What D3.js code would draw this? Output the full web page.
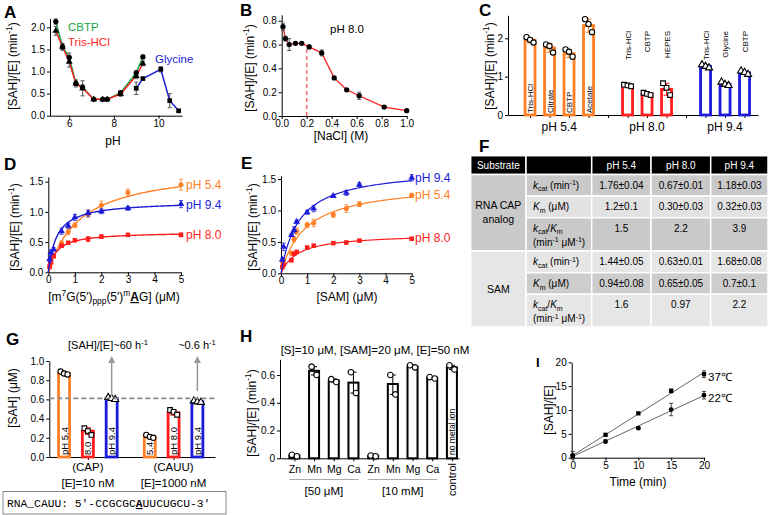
<!DOCTYPE html>
<html>
<head>
<meta charset="utf-8">
<script src="https://cdn.jsdelivr.net/npm/d3@7"></script>
<style>
  body { margin: 0; background: #fff; }
  text { font-family: "Liberation Sans", Arial, sans-serif; }
</style>
</head>
<body>
<div id="fig"></div>
<script>
// ---------- data ----------
// A: rate vs pH in three buffers
const phBuf = [5.4, 5.7, 6.0, 6.3, 6.6, 7.1, 7.5, 7.7, 8.3, 9.0, 9.3]
const rateCBTP = [2.13, 1.56, 1.32, 0.73, 0.64, 0.37, 0.37, 0.37, 0.52, 0.97, 1.33]
const errCBTP = [0.06, 0.06, 0.10, 0.05, 0.06, 0.02, 0.02, 0.02, 0.04, 0.05, 0.04]
const rateTris = [1.92, 1.56, 1.22, 0.73, 0.62, 0.37, 0.37, 0.37, 0.49, 0.90, 1.18]
const errTris = [0.10, 0.08, 0.12, 0.08, 0.17, 0.03, 0.03, 0.03, 0.05, 0.06, 0.05]
const phGly = [9.0, 9.3, 10.1, 10.5, 10.9]
const rateGly = [0.62, 0.84, 1.05, 0.34, 0.11]
const errGly = [0.14, 0.02, 0.06, 0.16, 0.02]

// B: NaCl titration at pH 8.0
const nacl = [0.01, 0.03, 0.06, 0.11, 0.16, 0.22, 0.32, 0.42, 0.52, 0.62, 0.82, 1.0]
const rateNaCl = [0.75, 0.65, 0.60, 0.61, 0.61, 0.58, 0.53, 0.32, 0.22, 0.17, 0.075, 0.045]
const errNaCl = [0.03, 0.02, 0.05, 0.01, 0.01, 0.015, 0.025, 0.01, 0.01, 0.03, 0.01, 0.005]

// C: buffers at three pH
const cGroups = ['pH 5.4', 'pH 8.0', 'pH 9.4']
const cBuffers = ['Tris-HCl', 'Citrate', 'CBTP', 'Acetate', 'Tris-HCl', 'CBTP', 'HEPES', 'Tris-HCl', 'Glycine', 'CBTP']
const cPH = ['pH 5.4', 'pH 5.4', 'pH 5.4', 'pH 5.4', 'pH 8.0', 'pH 8.0', 'pH 8.0', 'pH 9.4', 'pH 9.4', 'pH 9.4']
const cMeans = [1.95, 1.75, 1.60, 2.33, 0.76, 0.55, 0.67, 1.27, 0.80, 1.10]
const cReps = [[2.03, 1.96, 1.89], [1.84, 1.80, 1.63], [1.71, 1.65, 1.52], [2.50, 2.37, 2.16],
  [0.79, 0.77, 0.75], [0.58, 0.55, 0.52], [0.83, 0.71, 0.52],
  [1.31, 1.27, 1.23], [0.86, 0.80, 0.77], [1.15, 1.11, 1.06]]

// D: cap analog kinetics
const capConc = [0.05, 0.1, 0.2, 0.5, 0.75, 1, 1.5, 2, 3, 5]
const capRate54 = [0.08, 0.15, 0.26, 0.48, 0.67, 0.78, 0.97, 1.11, 1.32, 1.45]
const capRate80 = [0.10, 0.17, 0.27, 0.44, 0.49, 0.53, 0.55, 0.59, 0.62, 0.62]
const capRate94 = [0.22, 0.33, 0.38, 0.68, 0.77, 0.91, 0.98, 1.01, 1.06, 1.13]
const capErr54 = [0.02, 0.02, 0.03, 0.04, 0.05, 0.04, 0.06, 0.07, 0.06, 0.09]
const capErr80 = [0.02, 0.02, 0.02, 0.02, 0.02, 0.02, 0.04, 0.03, 0.02, 0.03]
const capErr94 = [0.05, 0.04, 0.03, 0.05, 0.04, 0.05, 0.05, 0.04, 0.03, 0.06]

// E: SAM kinetics
const samConc = [0.05, 0.1, 0.4, 0.5, 0.6, 1, 1.25, 2, 2.5, 3, 5]
const samRate54 = [0.19, 0.21, 0.32, 0.54, 0.67, 0.77, 0.80, 0.93, 1.03, 1.10, 1.24]
const samRate80 = [0.10, 0.14, 0.21, 0.31, 0.34, 0.41, 0.44, 0.48, 0.49, 0.52, 0.55]
const samRate94 = [0.22, 0.42, 0.61, 0.69, 0.82, 0.97, 1.03, 1.23, 1.28, 1.41, 1.52]
const samErr54 = [0.02, 0.02, 0.03, 0.04, 0.05, 0.04, 0.06, 0.04, 0.06, 0.04, 0.03]
const samErr80 = [0.02, 0.02, 0.03, 0.02, 0.02, 0.02, 0.02, 0.02, 0.02, 0.02, 0.02]
const samErr94 = [0.03, 0.06, 0.02, 0.05, 0.03, 0.03, 0.05, 0.02, 0.04, 0.03, 0.05]

// F: kinetic table
const fCols = ['pH 5.4', 'pH 8.0', 'pH 9.4']
const fSubstrates = [['RNA CAP', 'analog'], ['SAM']]
const fCap = [['1.76±0.04', '0.67±0.01', '1.18±0.03'], ['1.2±0.1', '0.30±0.03', '0.32±0.03'], ['1.5', '2.2', '3.9']]
const fSam = [['1.44±0.05', '0.63±0.01', '1.68±0.08'], ['0.94±0.08', '0.65±0.05', '0.7±0.1'], ['1.6', '0.97', '2.2']]

// G: SAH produced, CAP vs CAUU
const gSubstrates = ['(CAP)', '(CAUU)']
const gEnzyme = ['[E]=10 nM', '[E]=1000 nM']
const gInner = [['pH 5.4', '8.0', 'pH 9.4'], ['5.4', 'pH 8.0', 'pH 9.4']]
const gMeans = [[0.87, 0.27, 0.61], [0.21, 0.46, 0.575]]
const gReps = [[[0.89, 0.87, 0.86], [0.30, 0.27, 0.23], [0.62, 0.61, 0.60]],
  [[0.23, 0.21, 0.20], [0.49, 0.47, 0.44], [0.585, 0.575, 0.57]]]
const gRef = 0.61

// H: metal ions
const hIons = ['Zn', 'Mn', 'Mg', 'Ca', 'Zn', 'Mn', 'Mg', 'Ca', 'control']
const hConc = ['[50 μM]', '[10 mM]']
const hMeans = [0.02, 0.63, 0.56, 0.545, 0.015, 0.535, 0.66, 0.58, 0.655]
const hReps = [[0.025, 0.015], [0.66, 0.60], [0.57, 0.55], [0.62, 0.47], [0.02, 0.015],
  [0.60, 0.46], [0.67, 0.655], [0.585, 0.575], [0.67, 0.64]]

// I: time course
const time = [0, 5, 10, 15, 20]
const sah37 = [0.3, 4.8, 9.3, 14.0, 17.5]
const err37 = [0.3, 0.2, 0.2, 0.4, 0.7]
const sah22 = [0.5, 3.4, 6.2, 10.1, 13.1]
const err22 = [0.8, 0.3, 0.2, 1.3, 0.8]

const ORANGE = '#ff7f27', RED = '#ff1c1c', BLUE = '#1c1cd8', GREEN = '#17a348'
const phColors = [ORANGE, RED, BLUE]

// ---------- helpers ----------
const svg = d3.select('#fig').append('svg')
  .attr('width', 769).attr('height', 515)
  .style('background', '#fff')

function styleAxis(g) {
  g.attr('font-family', 'Liberation Sans, Arial, sans-serif').attr('font-size', 10)
  g.selectAll('path.domain').attr('stroke', '#000')
  g.selectAll('.tick line').attr('stroke', '#000')
}
function leftAxis(x, scale, ticks, fmt) {
  svg.append('g').attr('transform', `translate(${x},0)`)
    .call(d3.axisLeft(scale).tickValues(ticks).tickFormat(fmt).tickSize(3).tickPadding(2).tickSizeOuter(0))
    .call(styleAxis)
}
function bottomAxis(y, scale, ticks, fmt, pad = 1) {
  return svg.append('g').attr('transform', `translate(0,${y})`)
    .call(d3.axisBottom(scale).tickValues(ticks).tickFormat(fmt).tickSize(3).tickPadding(pad).tickSizeOuter(0))
    .call(styleAxis)
}
function rich(t, parts, fs) {
  let cur = 0
  parts.forEach(p => {
    const target = p.s === 'sub' ? fs * 0.25 : p.s === 'sup' ? -fs * 0.38 : 0
    const ts = t.append('tspan').attr('dy', target - cur).text(p.t)
    cur = target
    if (p.s) ts.attr('font-size', fs * 0.7)
    if (p.it) ts.attr('font-style', 'italic')
    if (p.b) ts.attr('font-weight', 'bold')
    if (p.u) ts.attr('text-decoration', 'underline')
  })
}
function txt(x, y, s, o = {}) {
  const fs = o.fs || 12
  const t = svg.append('text').attr('x', x).attr('y', y)
    .attr('font-size', fs).attr('fill', o.color || '#000')
    .attr('text-anchor', o.anchor || 'start')
  if (o.bold) t.attr('font-weight', 'bold')
  if (o.family) t.style('font-family', o.family)
  if (o.rot) t.attr('transform', `rotate(${o.rot},${x},${y})`)
  if (typeof s === 'string') t.text(s)
  else rich(t, s, fs)
  return t
}
const rateTitle = [{ t: '[SAH]/[E] (min' }, { t: '-1', s: 'sup' }, { t: ')' }]
const SYM = { circle: d3.symbolCircle, square: d3.symbolSquare, triangle: d3.symbolTriangle }
function marks(xs, ys, xS, yS, type, size, fill, stroke, sw = 1) {
  svg.append('g').selectAll('path').data(xs).join('path')
    .attr('d', d3.symbol().type(SYM[type]).size(size))
    .attr('transform', (d, i) => `translate(${xS(d)},${yS(ys[i])})`)
    .attr('fill', fill).attr('stroke', stroke).attr('stroke-width', sw)
}
function errs(xs, ys, es, xS, yS, color, cap = 2, sw = 1) {
  const g = svg.append('g').attr('stroke', color).attr('stroke-width', sw)
  xs.forEach((x, i) => {
    if (!es[i]) return
    const px = xS(x), a = yS(ys[i] - es[i]), b = yS(ys[i] + es[i])
    g.append('line').attr('x1', px).attr('x2', px).attr('y1', a).attr('y2', b)
    g.append('line').attr('x1', px - cap).attr('x2', px + cap).attr('y1', a).attr('y2', a)
    g.append('line').attr('x1', px - cap).attr('x2', px + cap).attr('y1', b).attr('y2', b)
  })
}
function line(xs, ys, xS, yS, color, w = 1.5) {
  svg.append('path').datum(xs)
    .attr('d', d3.line().x(d => xS(d)).y((d, i) => yS(ys[i])))
    .attr('fill', 'none').attr('stroke', color).attr('stroke-width', w)
}

// ---------- A ----------
const xA = d3.scaleLinear().domain([5.14, 11.05]).range([50, 182])
const yA = d3.scaleLinear().domain([0, 2.2]).range([115.7, 18.5])
bottomAxis(115.7, xA, [6, 8, 10], d3.format('d'))
leftAxis(50, yA, [0, 0.5, 1, 1.5, 2], d3.format('.1f'))
line(phBuf, rateCBTP, xA, yA, GREEN)
line(phBuf, rateTris, xA, yA, RED)
line(phGly, rateGly, xA, yA, BLUE)
errs(phBuf, rateCBTP, errCBTP, xA, yA, '#555')
errs(phBuf, rateTris, errTris, xA, yA, '#555')
errs(phGly, rateGly, errGly, xA, yA, '#555')
marks(phBuf, rateCBTP, xA, yA, 'circle', 22, '#000', 'none')
marks(phBuf, rateTris, xA, yA, 'triangle', 20, '#000', 'none')
marks(phGly, rateGly, xA, yA, 'square', 22, '#000', 'none')
txt(68, 31, 'CBTP', { fs: 11.5, color: GREEN })
txt(68, 46, 'Tris-HCl', { fs: 11.5, color: RED })
txt(155, 63, 'Glycine', { fs: 11.5, color: BLUE })
txt(113, 145, 'pH', { anchor: 'middle' })
txt(17, 66, rateTitle, { anchor: 'middle', rot: -90 })
txt(4, 18, 'A', { fs: 17, bold: 1 })

// ---------- B ----------
const xB = d3.scaleLinear().domain([0, 1]).range([281.7, 406.7])
const yB = d3.scaleLinear().domain([0, 0.85]).range([116, 14.8])
bottomAxis(116, xB, [0, 0.2, 0.4, 0.6, 0.8, 1.0], d3.format('.1f'))
leftAxis(281.7, yB, [0, 0.2, 0.4, 0.6, 0.8], d3.format('.1f'))
svg.append('line').attr('x1', xB(0.2)).attr('x2', xB(0.2)).attr('y1', yB(0)).attr('y2', yB(rateNaCl[5]))
  .attr('stroke', '#ff6a6a').attr('stroke-width', 1.5).attr('stroke-dasharray', '4,3')
line(nacl, rateNaCl, xB, yB, RED, 1.3)
errs(nacl, rateNaCl, errNaCl, xB, yB, '#555')
marks(nacl, rateNaCl, xB, yB, 'circle', 22, '#000', 'none')
txt(330, 33, 'pH 8.0', { fs: 11.5 })
txt(341, 140, '[NaCl] (M)', { anchor: 'middle' })
txt(254, 68, rateTitle, { anchor: 'middle', rot: -90 })
txt(240, 16, 'B', { fs: 17, bold: 1 })

// ---------- C ----------
const cSlot = cPH.map((p, i) => i + cGroups.indexOf(p))
const xC = d3.scaleLinear().domain([-1.13, 11.69]).range([508, 758])
const yC = d3.scaleLinear().domain([0, 2.6]).range([115, 15.3])
const cMarker = ['circle', 'square', 'triangle']
leftAxis(508, yC, [0, 1, 2], d3.format('d'))
const cSep = cGroups.slice(0, -1).map((g, k) => d3.max(cSlot.filter((s, i) => cPH[i] === g)) + 1)
bottomAxis(115, xC, cSlot.concat(cSep), () => '')
cBuffers.forEach((b, i) => {
  const gi = cGroups.indexOf(cPH[i]), cx = xC(cSlot[i]), col = phColors[gi]
  svg.append('rect').attr('x', cx - 5).attr('width', 10)
    .attr('y', yC(cMeans[i])).attr('height', yC(0) - yC(cMeans[i]))
    .attr('fill', '#fff').attr('stroke', col).attr('stroke-width', 2.8)
  const sd = d3.deviation(cReps[i])
  errs([cSlot[i]], [cMeans[i]], [sd], xC, yC, col, 3, 1)
  const offs = [-3.5, 0, 3.5]
  marks(offs, cReps[i], d => cx + d, yC, cMarker[gi], 22, '#fff', '#000', 1.1)
  if (gi === 0) txt(cx + 3, 113, b, { fs: 8, anchor: 'start', rot: -90 })
  else txt(cx + 3, 31, b, { fs: 8, anchor: 'end', rot: -90 })
})
cGroups.forEach((g, k) => {
  const s = cSlot.filter((v, i) => cPH[i] === g)
  txt(xC(d3.mean(s)), 131, g, { anchor: 'middle' })
})
txt(494, 66, rateTitle, { anchor: 'middle', rot: -90 })
txt(479, 16, 'C', { fs: 17, bold: 1 })

// ---------- D ----------
const capKcat = fCap[0].map(parseFloat), capKm = fCap[1].map(parseFloat)
const xD = d3.scaleLinear().domain([0, 5]).range([48.3, 181])
const yD = d3.scaleLinear().domain([0, 1.58]).range([272.3, 176.9])
bottomAxis(272.3, xD, [0, 1, 2, 3, 4, 5], d3.format('d'))
leftAxis(48.3, yD, [0, 0.5, 1, 1.5], d3.format('.1f'))
const capRates = [capRate54, capRate80, capRate94], capErrs = [capErr54, capErr80, capErr94]
const mkType = ['circle', 'square', 'triangle']
const fitX = d3.range(0, 5.001, 0.05)
capRates.forEach((r, k) => {
  line(fitX, fitX.map(s => capKcat[k] * s / (capKm[k] + s)), xD, yD, phColors[k], 1.4)
  errs(capConc, r, capErrs[k], xD, yD, phColors[k], 2, 0.8)
  marks(capConc, r, xD, yD, mkType[k], 20, phColors[k], 'none')
})
txt(186, 189, 'pH 5.4', { color: ORANGE })
txt(186, 209, 'pH 9.4', { color: BLUE })
txt(186, 239, 'pH 8.0', { color: RED })
txt(114, 301, [{ t: '[m' }, { t: '7', s: 'sup' }, { t: 'G(5′)' }, { t: 'ppp', s: 'sub' }, { t: '(5′)' },
  { t: 'm', s: 'sup' }, { t: 'A', b: 1, u: 1 }, { t: 'G] (μM)' }], { anchor: 'middle' })
txt(18.5, 227, rateTitle, { anchor: 'middle', rot: -90 })
txt(4, 170, 'D', { fs: 17, bold: 1 })

// ---------- E ----------
const samKcat = fSam[0].map(parseFloat), samKm = fSam[1].map(parseFloat)
const xE = d3.scaleLinear().domain([0, 5]).range([281, 411.7])
const yE = d3.scaleLinear().domain([0, 1.55]).range([273.3, 175.9])
bottomAxis(273.3, xE, [0, 1, 2, 3, 4, 5], d3.format('d'))
leftAxis(281, yE, [0, 0.5, 1, 1.5], d3.format('.1f'))
const samRates = [samRate54, samRate80, samRate94], samErrs = [samErr54, samErr80, samErr94]
samRates.forEach((r, k) => {
  line(fitX, fitX.map(s => samKcat[k] * s / (samKm[k] + s)), xE, yE, phColors[k], 1.2)
  errs(samConc, r, samErrs[k], xE, yE, phColors[k], 2, 0.8)
  marks(samConc, r, xE, yE, mkType[k], 20, phColors[k], 'none')
})
txt(415, 182, 'pH 9.4', { color: BLUE })
txt(415, 199, 'pH 5.4', { color: ORANGE })
txt(415, 242, 'pH 8.0', { color: RED })
txt(347, 301, '[SAM] (μM)', { anchor: 'middle' })
txt(257, 227, rateTitle, { anchor: 'middle', rot: -90 })
txt(241, 169, 'E', { fs: 17, bold: 1 })

// ---------- F (table) ----------
const colX = [470.7, 526, 591.7, 651, 710.7, 768]
const rowY = [155.7, 174.5, 196, 217.7, 251, 272.7, 294.3, 327]
const FS = 10
function cell(c0, c1, r0, r1, fill) {
  svg.append('rect').attr('x', colX[c0]).attr('y', rowY[r0])
    .attr('width', colX[c1] - colX[c0]).attr('height', rowY[r1] - rowY[r0])
    .attr('fill', fill).attr('stroke', '#fff').attr('stroke-width', 1.5)
}
const header = ['Substrate', ''].concat(fCols)
header.forEach((h, c) => {
  cell(c, c + 1, 0, 1, '#000')
  txt((colX[c] + colX[c + 1]) / 2, 169, h, { fs: FS, color: '#fff', anchor: 'middle' })
})
const paramLabels = [
  [[{ t: 'k', it: 1 }, { t: 'cat', s: 'sub' }, { t: ' (min' }, { t: '-1', s: 'sup' }, { t: ')' }]],
  [[{ t: 'K', it: 1 }, { t: 'm', s: 'sub' }, { t: ' (μM)' }]],
  [[{ t: 'k', it: 1 }, { t: 'cat', s: 'sub' }, { t: '/' }, { t: 'K', it: 1 }, { t: 'm', s: 'sub' }],
   [{ t: '(min' }, { t: '-1', s: 'sup' }, { t: ' μM' }, { t: '-1', s: 'sup' }, { t: ')' }]]
]
const subFill = ['#c9c9c9', '#e6e6e6']
const rowFill = [['#c9c9c9', '#e2e2e2', '#c9c9c9'], ['#e6e6e6', '#cdcdcd', '#e6e6e6']];
[fCap, fSam].forEach((vals, s) => {
  const r0 = 1 + s * 3
  cell(0, 1, r0, r0 + 3, subFill[s])
  const lines = fSubstrates[s]
  const mid = (rowY[r0] + rowY[r0 + 3]) / 2
  lines.forEach((l, j) => txt((colX[0] + colX[1]) / 2, mid + 3.5 + (j - (lines.length - 1) / 2) * 14, l, { fs: FS + 0.5, anchor: 'middle' }))
  vals.forEach((row, p) => {
    const r = r0 + p
    for (let c = 1; c < 5; c++) cell(c, c + 1, r, r + 1, rowFill[s][p])
    const two = paramLabels[p].length > 1
    const base = two ? rowY[r] + 14 : (rowY[r] + rowY[r + 1]) / 2 + 3.5
    paramLabels[p].forEach((pl, j) => txt(533, base + j * 14, pl, { fs: FS }))
    row.forEach((v, c) => txt((colX[c + 2] + colX[c + 3]) / 2, base, v, { fs: FS, anchor: 'middle' }))
  })
})
txt(479, 152, 'F', { fs: 17, bold: 1 })

// ---------- G ----------
const gSlot = (g, j) => g * 3.6 + j
const xG = d3.scaleLinear().domain([-0.62, 6.34]).range([49.3, 215])
const yG = d3.scaleLinear().domain([0, 1.0]).range([457, 361])
leftAxis(49.3, yG, [0, 0.2, 0.4, 0.6, 0.8, 1.0], d3.format('.1f'))
bottomAxis(457, xG, gSubstrates.map((s, g) => gSlot(g, 1)), () => '')
gMeans.forEach((row, g) => row.forEach((m, j) => {
  const cx = xG(gSlot(g, j)), col = phColors[j]
  svg.append('rect').attr('x', cx - 5.5).attr('width', 11)
    .attr('y', yG(m)).attr('height', yG(0) - yG(m))
    .attr('fill', '#fff').attr('stroke', col).attr('stroke-width', 2.8)
  errs([0], [m], [d3.deviation(gReps[g][j])], () => cx, yG, col, 3, 1)
  marks([-3.5, 0, 3.5], gReps[g][j], d => cx + d, yG, mkType[j], 22, '#fff', '#000', 1.1)
  txt(cx + 3.5, 455, gInner[g][j], { fs: 9.5, rot: -90 })
}))
svg.append('line').attr('x1', 49.3).attr('x2', 215).attr('y1', yG(gRef)).attr('y2', yG(gRef))
  .attr('stroke', '#8a8a8a').attr('stroke-width', 1.8).attr('stroke-dasharray', '5,3')
;[[gSlot(0, 2), 396], [gSlot(1, 2), 391]].forEach(([s, y0]) => {
  const x = xG(s)
  svg.append('line').attr('x1', x).attr('x2', x).attr('y1', y0).attr('y2', 362)
    .attr('stroke', '#999').attr('stroke-width', 1.5)
  svg.append('path').attr('d', `M${x - 3.5},${363} L${x},${356} L${x + 3.5},${363} Z`).attr('fill', '#999')
})
txt(108, 349, [{ t: '[SAH]/[E]~60 h' }, { t: '-1', s: 'sup' }], { fs: 11, anchor: 'middle' })
txt(197, 349, [{ t: '~0.6 h' }, { t: '-1', s: 'sup' }], { fs: 11, anchor: 'middle' })
gSubstrates.forEach((s, g) => {
  const cx = xG(gSlot(g, 1))
  txt(cx, 471, s, { fs: 11.5, anchor: 'middle' })
  txt(cx, 487, gEnzyme[g], { fs: 11.5, anchor: 'middle' })
})
txt(16.5, 398, '[SAH] (μM)', { anchor: 'middle', rot: -90 })
txt(6, 345, 'G', { fs: 17, bold: 1 })
svg.append('rect').attr('x', 3).attr('y', 491.5).attr('width', 223).attr('height', 22.5)
  .attr('fill', '#fff').attr('stroke', '#888').attr('stroke-width', 1)
txt(7, 507, [{ t: 'RNA_CAUU:  5′-CCGCGC' }, { t: 'A', b: 1, u: 1 }, { t: 'UUCUGCU-3′' }],
  { fs: 11.3, family: '"Liberation Mono", "DejaVu Sans Mono", monospace' })

// ---------- H ----------
const xH = d3.scaleLinear().domain([-0.73, 8.36]).range([280, 459])
const yH = d3.scaleLinear().domain([0, 0.713]).range([458.3, 359.3])
leftAxis(280, yH, [0, 0.2, 0.4, 0.6], d => d === 0 ? '0' : d3.format('.1f')(d))
const hIdx = hIons.map((d, i) => i)
const axH = bottomAxis(458.3, xH, hIdx, i => i < hIons.length - 1 ? hIons[i] : '', 4)
axH.attr('font-size', 10.5)
hMeans.forEach((m, i) => {
  const cx = xH(i)
  svg.append('rect').attr('x', cx - 5).attr('width', 10)
    .attr('y', yH(m)).attr('height', yH(0) - yH(m))
    .attr('fill', '#fff').attr('stroke', '#000').attr('stroke-width', 2)
  const lo = d3.min(hReps[i]), hi = d3.max(hReps[i])
  errs([i], [(lo + hi) / 2], [(hi - lo) / 2], xH, yH, '#000', 3, 1)
  marks([-2.5, 2.5], hReps[i], d => cx + d, yH, 'circle', 24, '#fff', '#000', 1.1)
})
const last = hIons.length - 1
txt(xH(last) + 3.5, 455, 'no metal ion', { fs: 8.5, rot: -90 })
txt(xH(last) + 4, 463, hIons[last], { fs: 11, anchor: 'end', rot: -90 })
hConc.forEach((c, k) => {
  const a = xH(k * 4) - 5, b = xH(k * 4 + 3) + 5
  svg.append('line').attr('x1', a).attr('x2', b).attr('y1', 479.5).attr('y2', 479.5)
    .attr('stroke', '#aaa').attr('stroke-width', 1)
  txt((a + b) / 2, 495, c, { fs: 11.5, anchor: 'middle' })
})
txt(375, 354, '[S]=10 μM, [SAM]=20 μM, [E]=50 nM', { fs: 11.5, anchor: 'middle' })
txt(255.5, 413, rateTitle, { anchor: 'middle', rot: -90 })
txt(240, 342, 'H', { fs: 17, bold: 1 })

// ---------- I ----------
const xI = d3.scaleLinear().domain([0, 20]).range([572.7, 704])
const yI = d3.scaleLinear().domain([0, 20]).range([457.7, 362.3])
bottomAxis(457.7, xI, time, d3.format('d'))
leftAxis(571.7, yI, [0, 5, 10, 15, 20], d3.format('d'))
function fit(xs, ys) {
  const mx = d3.mean(xs), my = d3.mean(ys)
  const b = d3.sum(xs.map((x, i) => (x - mx) * (ys[i] - my))) / d3.sum(xs.map(x => (x - mx) ** 2))
  return [my - b * mx, b]
}
;[sah37, sah22].forEach((ys, k) => {
  const [a, b] = fit(time, ys)
  const ends = d3.extent(time)
  line(ends, ends.map(t => a + b * t), xI, yI, '#555', 0.9)
  errs(time, ys, [err37, err22][k], xI, yI, '#333', 2, 0.9)
  marks(time, ys, xI, yI, k === 0 ? 'square' : 'circle', 18, '#000', 'none')
})
txt(708, 381, '37℃', { fs: 11.5 })
txt(708, 402, '22℃', { fs: 11.5 })
txt(638, 486, 'Time (min)', { anchor: 'middle' })
txt(553, 410, '[SAH]/[E]', { anchor: 'middle', rot: -90 })
txt(536, 367, 'I', { fs: 13, bold: 1 })
</script>
</body>
</html>
